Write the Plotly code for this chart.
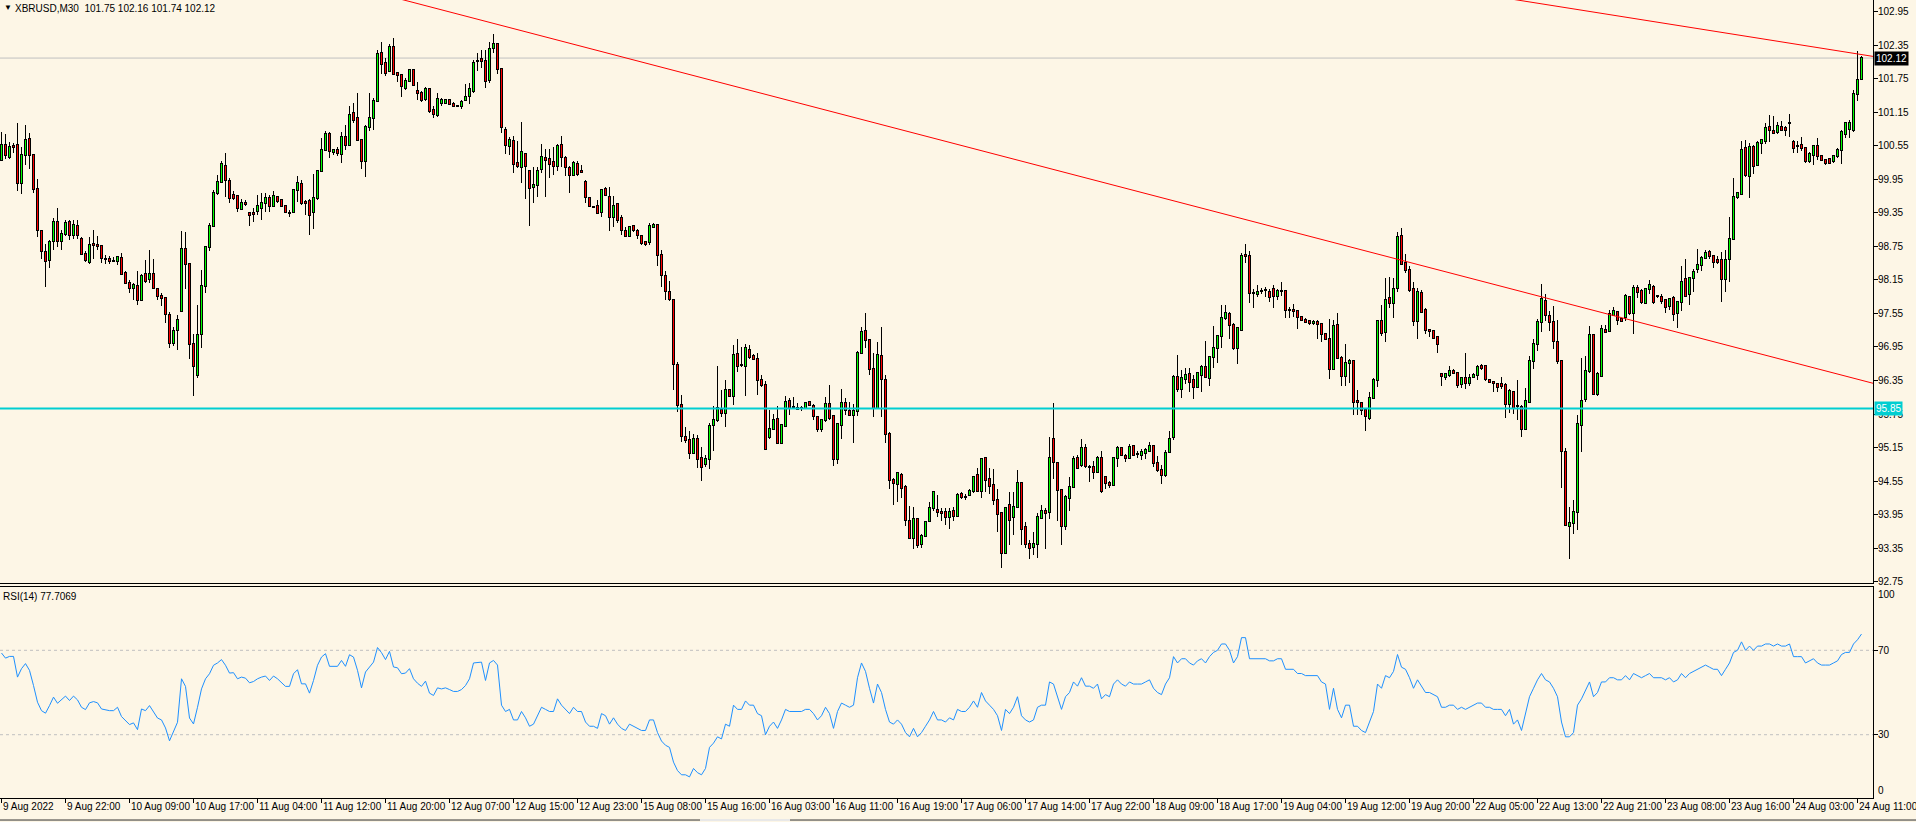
import plotly.graph_objects as go

# ---------------- data ----------------
opens = [
100.29,100.56,100.35,100.55,100.56,99.88,100.39,100.67,100.38,99.77,
99.03,98.65,98.50,98.84,99.19,98.84,98.97,99.19,98.96,99.12,
98.89,98.61,98.47,98.79,98.77,98.75,98.52,98.52,98.49,98.49,
98.55,98.28,98.10,98.01,98.04,97.79,98.25,98.16,98.26,97.99,
97.86,97.82,97.52,97.02,97.26,97.59,98.70,98.44,97.00,96.44,
97.18,98.04,98.73,99.11,99.71,99.91,100.19,99.92,99.67,99.65,
99.42,99.53,99.35,99.35,99.38,99.44,99.53,99.62,99.47,99.63,
99.58,99.47,99.34,99.36,99.76,99.86,99.55,99.57,99.36,99.61,
100.10,100.47,100.77,100.44,100.47,100.41,100.70,100.56,101.13,101.05,
100.66,100.28,100.89,101.05,101.36,102.21,102.04,101.89,102.32,101.86,
101.81,101.58,101.71,101.90,101.53,101.50,101.39,101.56,101.19,101.10,
101.31,101.32,101.37,101.30,101.26,101.26,101.37,101.44,101.53,102.07,
102.11,102.07,101.73,102.30,102.37,101.92,100.83,100.54,100.63,100.25,
100.17,100.40,100.10,99.82,99.85,100.13,100.34,100.31,100.26,100.19,
100.56,100.34,100.16,100.03,100.23,100.10,99.91,99.61,99.46,99.47,
99.36,99.78,99.64,99.27,99.51,99.26,99.03,98.93,99.12,99.03,
98.93,98.83,98.82,99.10,99.13,98.59,98.22,97.93,97.79,96.62,
95.92,95.34,95.28,95.05,95.30,94.97,94.85,94.95,95.55,95.64,
95.83,95.76,96.18,96.07,96.83,96.63,96.61,96.90,96.79,96.74,
96.36,96.27,95.33,95.49,95.66,95.24,95.53,95.98,95.87,95.85,
95.85,95.86,95.96,95.90,95.70,95.49,95.65,95.93,95.71,94.94,
95.55,95.94,95.81,95.74,95.80,96.85,97.24,97.07,96.56,95.86,
96.78,96.36,95.40,94.57,94.50,94.66,94.45,93.84,93.54,93.88,
93.42,93.57,93.83,94.06,94.03,94.00,93.99,93.90,94.01,93.92,
94.32,94.27,94.30,94.38,94.66,94.37,94.96,94.58,94.48,94.21,
93.97,93.26,94.12,93.90,94.09,94.52,93.72,93.42,93.37,93.42,
93.89,94.02,94.00,95.30,94.87,94.39,93.75,94.25,94.45,94.96,
94.84,95.15,94.81,94.81,94.72,94.97,94.62,94.51,94.48,94.96,
95.14,95.00,94.97,95.18,95.03,95.02,95.06,95.09,95.18,94.88,
94.75,94.65,95.07,95.33,96.42,96.20,96.37,96.46,96.36,96.23,
96.45,96.60,96.39,96.77,96.94,97.15,97.46,97.54,97.34,96.94,
97.26,98.60,98.57,97.91,97.90,97.96,97.97,97.93,97.99,97.86,
97.95,97.96,97.61,97.61,97.60,97.49,97.44,97.42,97.37,97.40,
97.36,97.18,97.09,96.55,97.34,96.76,96.43,96.66,96.69,95.99,
95.95,95.82,95.68,96.04,96.35,97.42,97.21,97.82,97.73,98.00,
98.94,98.46,98.33,97.99,97.41,97.92,97.61,97.25,97.23,97.12,
96.47,96.42,96.44,96.52,96.48,96.28,96.40,96.31,96.41,96.45,
96.61,96.61,96.36,96.33,96.28,96.28,96.27,95.93,96.15,95.90,
95.88,95.49,95.97,96.69,97.00,97.39,97.78,97.51,97.39,97.04,
96.69,95.07,93.75,93.80,93.99,95.56,96.02,96.52,97.17,96.10,
96.43,97.26,97.23,97.53,97.57,97.45,97.48,97.84,97.55,98.01,
97.95,97.73,97.98,98.03,97.86,97.85,97.79,97.68,97.83,97.55,
97.75,98.17,97.90,98.19,98.34,98.42,98.55,98.65,98.57,98.50,
98.50,98.17,98.52,98.88,99.63,99.69,100.51,100.01,100.52,100.21,
100.60,100.64,100.88,100.82,100.80,100.88,100.87,100.96,100.62,100.54,
100.56,100.51,100.27,100.39,100.54,100.36,100.29,100.31,100.28,100.36,
100.47,100.77,100.85,100.83,101.47,101.75]

highs = [
100.80,100.77,100.62,100.60,100.96,100.53,100.92,100.78,100.41,99.95,
99.05,98.80,98.86,99.26,99.44,99.04,99.22,99.22,99.22,99.23,
98.92,98.67,98.92,99.05,98.93,98.77,98.60,98.57,98.56,98.58,
98.64,98.31,98.15,98.09,98.31,98.25,98.50,98.68,98.53,98.01,
97.92,97.84,97.58,97.31,97.52,99.03,99.01,98.46,97.19,97.70,
98.32,98.74,99.16,99.76,100.02,100.28,100.42,99.97,99.74,99.67,
99.59,99.58,99.37,99.43,99.67,99.70,99.70,99.67,99.74,99.65,
99.60,99.48,99.41,99.77,100.01,99.94,99.58,99.59,100.05,100.11,
100.69,100.81,100.79,100.50,100.53,100.79,100.92,101.26,101.31,101.50,
100.68,100.92,101.50,101.40,102.27,102.41,102.13,102.38,102.48,101.87,
101.84,101.76,101.93,101.92,101.70,101.53,101.61,101.59,101.26,101.49,
101.40,101.38,101.38,101.33,101.28,101.37,101.65,101.67,102.08,102.21,
102.26,102.27,102.41,102.55,102.38,101.93,100.89,100.71,100.73,100.64,
100.98,100.41,100.11,100.17,100.17,100.59,100.50,100.50,100.53,100.58,
100.73,100.36,100.19,100.27,100.28,100.21,99.94,99.62,99.47,99.58,
99.77,99.82,99.82,99.65,99.52,99.31,99.10,99.11,99.13,99.06,
98.95,98.85,99.16,99.16,99.15,98.68,98.31,98.13,97.80,96.68,
96.09,95.52,95.45,95.40,95.37,95.16,95.01,95.59,95.90,96.61,
96.18,96.36,96.19,96.98,97.09,96.95,97.01,96.98,96.83,96.84,
96.45,96.34,95.82,95.75,95.89,95.58,96.08,96.03,96.06,95.94,
95.90,95.95,95.98,95.93,95.71,95.66,96.06,96.27,95.73,95.58,
96.20,96.03,95.97,95.93,96.87,97.30,97.55,97.09,96.84,97.04,
97.31,96.45,95.42,94.60,94.72,94.69,94.48,94.11,94.09,93.89,
93.60,93.83,94.17,94.37,94.30,94.07,94.07,94.06,94.09,94.33,
94.36,94.31,94.40,94.63,94.78,94.97,94.97,94.78,94.77,94.40,
94.00,94.08,94.35,94.35,94.75,94.54,93.81,93.49,93.63,93.97,
94.12,94.07,95.34,95.95,94.89,94.41,94.30,94.63,95.00,95.01,
95.31,95.21,94.84,94.91,95.00,95.09,94.64,94.55,94.97,95.18,
95.16,95.04,95.21,95.19,95.08,95.13,95.14,95.25,95.19,95.00,
94.84,95.10,95.44,96.44,96.81,96.54,96.58,96.57,96.45,96.51,
96.63,97.06,96.79,97.32,97.17,97.70,97.70,97.58,97.37,97.31,
98.63,98.79,98.67,97.99,98.05,98.01,98.03,97.99,98.05,97.99,
98.12,97.97,97.67,97.71,97.61,97.51,97.46,97.44,97.43,97.43,
97.38,97.20,97.45,97.43,97.55,96.79,97.00,96.73,96.72,96.18,
95.97,95.86,96.14,96.39,97.44,97.70,98.18,98.21,98.18,99.01,
99.08,98.61,98.39,98.12,98.00,97.97,97.65,97.28,97.26,97.13,
96.49,96.47,96.61,96.55,96.49,96.40,96.85,96.46,96.49,96.63,
96.64,96.63,96.38,96.34,96.30,96.42,96.30,96.20,96.17,96.35,
95.91,96.22,96.79,97.09,97.45,98.07,97.90,97.60,97.68,97.43,
96.70,95.15,94.08,94.22,95.74,96.75,96.78,97.32,97.19,96.50,
97.35,97.34,97.61,97.66,97.60,97.47,97.90,97.87,98.06,98.06,
97.98,98.01,98.14,98.05,97.88,97.90,97.81,97.83,97.86,97.78,
98.40,98.52,98.21,98.35,98.70,98.58,98.68,98.68,98.60,98.58,
98.65,98.68,99.27,99.97,99.73,100.64,100.65,100.60,100.56,100.64,
100.68,100.95,101.10,101.08,100.98,100.99,100.90,101.12,100.65,100.63,
100.71,100.52,100.44,100.56,100.69,100.38,100.32,100.33,100.39,100.51,
100.83,100.98,101.01,101.54,102.25,102.16]

lows = [
100.27,100.31,100.31,100.43,99.74,99.68,100.20,100.13,99.70,98.92,
98.53,98.03,98.37,98.69,98.74,98.69,98.93,98.87,98.88,98.89,
98.59,98.47,98.44,98.53,98.69,98.46,98.43,98.43,98.47,98.41,
98.26,98.09,97.92,97.79,97.70,97.79,98.10,98.09,97.99,97.79,
97.69,97.37,96.94,96.96,96.90,97.59,97.98,96.74,96.07,96.39,
96.94,97.91,98.66,99.09,99.67,99.88,99.64,99.52,99.58,99.36,
99.40,99.47,99.12,99.19,99.31,99.23,99.36,99.37,99.46,99.53,
99.46,99.34,99.27,99.35,99.55,99.49,99.32,98.95,99.06,99.58,
100.08,100.45,100.33,100.38,100.37,100.25,100.47,100.55,100.95,100.65,
100.13,100.00,100.82,100.83,101.34,101.84,101.80,101.87,101.81,101.70,
101.43,101.55,101.70,101.62,101.37,101.34,101.36,101.14,101.04,101.07,
101.27,101.30,101.28,101.25,101.24,101.21,101.36,101.29,101.50,101.89,
101.95,101.59,101.68,102.21,101.83,100.78,100.40,100.38,100.06,100.15,
99.89,99.59,99.12,99.52,99.64,100.06,99.64,99.98,100.03,100.10,
100.17,100.01,99.71,100.01,100.01,100.07,99.53,99.45,99.45,99.34,
99.28,99.65,99.02,99.10,99.16,98.95,98.92,98.92,99.01,98.89,
98.77,98.75,98.77,99.08,98.40,98.03,97.79,97.77,96.18,95.78,
95.25,95.23,94.95,95.03,94.79,94.55,94.80,94.76,95.08,95.61,
95.69,95.52,96.06,95.91,96.51,96.60,96.07,96.73,96.71,96.09,
96.24,95.12,95.31,95.46,95.21,95.23,95.52,95.74,95.85,95.83,
95.80,95.85,95.90,95.65,95.43,95.42,95.61,95.64,94.82,94.85,
95.30,95.74,95.73,95.24,95.71,96.82,96.94,96.44,95.70,95.85,
95.70,95.24,94.40,94.13,94.18,94.24,93.75,93.52,93.33,93.35,
93.36,93.55,93.81,94.01,93.91,93.83,93.76,93.69,93.83,93.91,
94.23,94.21,94.28,94.34,94.36,94.25,94.35,94.31,94.13,93.64,
92.99,93.24,93.41,93.58,94.06,93.40,93.35,93.15,93.22,93.18,
93.88,93.33,93.87,94.59,93.83,93.40,93.67,94.01,94.43,94.76,
94.80,94.79,94.54,94.58,94.70,94.33,94.41,94.43,94.47,94.81,
94.99,94.90,94.95,95.00,94.96,94.93,94.95,95.07,94.81,94.72,
94.49,94.63,95.06,95.28,96.15,96.04,96.28,96.15,96.01,96.21,
96.14,96.39,96.26,96.58,96.67,96.94,97.44,97.10,96.89,96.64,
97.25,98.45,97.73,97.65,97.85,97.90,97.85,97.76,97.65,97.79,
97.86,97.47,97.46,97.49,97.28,97.41,97.37,97.35,97.35,97.09,
97.04,97.07,96.37,96.54,96.73,96.26,96.26,96.30,95.73,95.74,
95.73,95.45,95.65,96.02,96.24,97.15,97.04,97.65,97.46,97.94,
98.42,98.27,97.94,97.33,97.10,97.56,97.19,97.12,97.10,96.84,
96.25,96.35,96.41,96.46,96.22,96.21,96.20,96.25,96.39,96.36,
96.54,96.34,96.30,96.15,96.15,96.20,95.67,95.76,95.75,95.65,
95.33,95.46,95.96,96.55,96.88,97.22,97.42,97.23,96.92,96.65,
94.43,93.74,93.16,93.61,93.67,95.07,95.97,96.49,96.09,96.07,
96.42,97.20,97.21,97.51,97.35,97.41,97.42,97.52,97.19,97.83,
97.72,97.71,97.90,97.71,97.83,97.72,97.56,97.62,97.42,97.29,
97.60,97.84,97.70,97.93,98.28,98.31,98.52,98.52,98.37,98.43,
97.75,97.94,98.12,98.86,99.60,99.67,99.99,99.61,100.05,100.19,
100.40,100.59,100.62,100.76,100.77,100.82,100.73,100.70,100.42,100.43,
100.46,100.25,100.25,100.21,100.29,100.28,100.20,100.23,100.25,100.34,
100.22,100.69,100.69,100.79,101.35,101.74]

closes = [
100.56,100.38,100.53,100.53,99.88,100.38,100.65,100.38,99.77,99.04,
98.66,98.49,98.83,99.19,98.84,98.97,99.17,98.95,99.14,98.95,
98.62,98.51,98.77,98.77,98.75,98.55,98.52,98.48,98.49,98.56,
98.26,98.10,98.01,98.06,97.79,98.22,98.13,98.26,98.01,97.86,
97.82,97.54,97.02,97.23,97.44,98.70,98.44,97.00,96.61,97.16,
98.04,98.73,99.11,99.71,99.91,100.22,99.94,99.61,99.62,99.43,
99.53,99.50,99.31,99.33,99.47,99.53,99.62,99.47,99.65,99.57,
99.47,99.36,99.34,99.76,99.89,99.52,99.52,99.31,99.61,100.10,
100.48,100.77,100.45,100.48,100.43,100.70,100.56,101.10,101.02,100.66,
100.28,100.89,101.05,101.36,102.19,102.01,101.86,102.32,101.83,101.81,
101.62,101.71,101.90,101.64,101.49,101.37,101.56,101.17,101.12,101.39,
101.37,101.37,101.30,101.26,101.26,101.34,101.43,101.56,102.04,102.07,
102.07,101.71,102.29,102.37,101.93,100.89,100.56,100.65,100.22,100.19,
100.44,100.19,99.79,99.84,100.10,100.35,100.29,100.23,100.19,100.55,
100.35,100.17,100.03,100.25,100.05,100.09,99.64,99.47,99.46,99.35,
99.76,99.67,99.27,99.48,99.23,99.04,98.93,99.10,99.04,98.95,
98.81,98.79,99.11,99.13,98.60,98.24,97.95,97.80,96.64,95.92,
95.35,95.29,95.05,95.31,94.95,94.80,94.95,95.53,95.64,95.85,
95.76,96.18,96.07,96.80,96.61,96.62,96.94,96.77,96.74,96.36,
96.27,95.13,95.49,95.64,95.24,95.55,95.97,95.85,95.87,95.84,
95.85,95.94,95.91,95.71,95.49,95.64,95.93,95.67,94.94,95.57,
95.94,95.82,95.74,95.80,96.85,97.21,97.07,96.56,95.86,96.81,
96.37,95.40,94.57,94.51,94.69,94.42,93.85,93.54,93.88,93.40,
93.57,93.81,94.06,94.35,93.99,93.97,93.90,94.00,93.92,94.30,
94.27,94.26,94.38,94.62,94.37,94.94,94.57,94.46,94.21,93.96,
93.27,94.06,93.85,94.09,94.52,93.70,93.42,93.36,93.42,93.91,
94.02,93.98,94.97,94.89,94.39,93.75,94.27,94.45,94.94,94.79,
95.15,94.82,94.81,94.72,94.96,94.37,94.52,94.48,94.96,95.15,
95.02,94.96,95.16,95.02,95.03,95.07,95.10,95.18,94.88,94.75,
94.66,95.06,95.31,96.42,96.20,96.39,96.45,96.33,96.23,96.48,
96.60,96.41,96.77,96.94,97.15,97.46,97.55,97.34,96.94,97.29,
98.58,98.58,97.92,97.91,97.94,97.96,97.97,97.84,97.87,97.95,
97.96,97.61,97.61,97.60,97.48,97.43,97.39,97.37,97.40,97.36,
97.19,97.09,96.55,97.32,96.76,96.43,96.67,96.70,95.96,95.96,
95.82,95.71,96.04,96.36,97.42,97.20,97.79,97.73,97.99,98.91,
98.43,98.33,97.97,97.41,97.94,97.58,97.25,97.23,97.11,97.00,
96.43,96.46,96.52,96.49,96.27,96.39,96.31,96.40,96.45,96.60,
96.58,96.37,96.33,96.30,96.23,96.25,95.93,96.16,95.85,95.89,
95.49,95.99,96.69,97.00,97.40,97.80,97.52,97.39,97.05,96.70,
95.09,93.77,93.80,94.00,95.58,95.99,96.52,97.16,96.10,96.46,
97.28,97.22,97.54,97.60,97.43,97.42,97.87,97.56,98.01,97.93,
97.76,97.99,98.05,97.76,97.86,97.78,97.66,97.81,97.54,97.75,
98.11,97.86,98.19,98.29,98.42,98.55,98.63,98.57,98.47,98.47,
98.17,98.50,98.88,99.63,99.70,100.48,100.03,100.52,100.19,100.60,
100.65,100.87,100.83,100.78,100.90,100.84,100.84,100.95,100.51,100.54,
100.51,100.27,100.40,100.54,100.37,100.29,100.24,100.25,100.37,100.48,
100.80,100.95,100.96,101.47,101.73,102.12]

rsi_vals = [
68.7,66.3,67.1,67.1,57.3,61.3,63.7,60.5,53.3,45.4,
41.4,40.2,43.8,47.8,44.9,46.5,48.3,46.2,48.3,46.5,
43.0,41.9,45.1,45.7,45.1,42.2,41.7,41.4,41.4,43.0,
38.6,36.7,34.8,35.6,32.4,42.2,41.4,43.8,40.6,37.9,
37.0,33.2,27.1,31.1,35.9,56.5,52.9,37.9,35.1,43.0,
51.7,56.5,58.9,62.9,64.0,65.6,62.9,59.2,59.4,56.5,
57.3,56.8,54.6,55.2,56.5,57.3,57.8,55.7,57.8,56.5,
54.9,52.9,52.9,58.9,60.8,54.1,54.1,49.7,55.7,62.9,
66.8,68.4,62.4,62.4,62.4,65.2,62.4,67.9,66.8,60.5,
52.2,59.7,62.1,64.4,71.3,68.9,65.6,69.5,62.1,61.7,
58.9,59.2,61.3,56.5,54.4,52.9,55.4,49.7,48.6,52.2,
51.7,52.2,51.4,50.5,50.5,51.4,53.3,56.5,64.0,64.1,
64.4,55.7,64.0,65.2,63.0,
44,41,42,37,37,41,38,34,35,39,
43,42,41,41,47,44,42,40,43,41,
41,36,34,34,33,40,39,35,38,35,
33,32,35,34,33,32,32,37,37,31,
27,25,24,17,13,11,11,10,14,12,
11,14,24,26,29,28,35,34,44,42,
42,46,44,44,40,39,30,34,36,33,
37,42,41,41,41,41,42,42,40,37,
39,43,40,33,41,45,44,43,44,57,
64,60,52,45,54,50,42,36,35,37,
35,31,29,33,29,31,34,37,41,37,
37,36,38,37,42,41,41,43,46,43,
50,46,44,42,39,32,42,40,43,48,
39,37,36,37,43,44,44,55,54,48,
42,48,50,55,53,57,53,53,52,54,
47,49,48,54,56,54,53,55,54,54,
54,55,56,52,50,49,54,57,67,64,
66,66,64,63,65,66,64,67,69,70,
73,73,70,64,67,76,76,66,66,66,
66,66,65,65,66,66,61,61,61,59,
59,58,58,58,58,55,54,42,52,42,
38,44,44,34,34,32,31,36,41,54,
52,58,57,60,68,62,61,57,52,56,
53,50,50,49,48,43,43,44,44,42,
43,42,43,44,45,45,43,43,42,42,
42,39,42,35,37,32,40,48,52,56,
59,56,55,52,48,36,29,29,31,44,
47,51,55,48,50,55,55,57,57,56,
56,58,56,59,58,57,58,59,57,57,
57,56,57,55,56,59,57,59,60,61,
62,63,62,61,61,58,61,64,69,70,
74,70,72,70,72,72,73,73,72,73,
72,72,73,67,67,67,64,65,66,64,
63,63,63,64,65,68,69,69,73,75,
77.7]

time_tick_bars = list(range(0, 465, 16))
time_tick_labels = ["9 Aug 2022", "9 Aug 22:00", "10 Aug 09:00", "10 Aug 17:00", "11 Aug 04:00",
                    "11 Aug 12:00", "11 Aug 20:00", "12 Aug 07:00", "12 Aug 15:00", "12 Aug 23:00",
                    "15 Aug 08:00", "15 Aug 16:00", "16 Aug 03:00", "16 Aug 11:00", "16 Aug 19:00",
                    "17 Aug 06:00", "17 Aug 14:00", "17 Aug 22:00", "18 Aug 09:00", "18 Aug 17:00",
                    "19 Aug 04:00", "19 Aug 12:00", "19 Aug 20:00", "22 Aug 05:00", "22 Aug 13:00",
                    "22 Aug 21:00", "23 Aug 08:00", "23 Aug 16:00", "24 Aug 03:00", "24 Aug 11:00"]
price_ticks = [92.75, 93.35, 93.95, 94.55, 95.15, 95.75, 96.35, 96.95, 97.55, 98.15,
               98.75, 99.35, 99.95, 100.55, 101.15, 101.75, 102.35, 102.95]
rsi_levels = [30, 70]
support_level = 95.85
bid_price = 102.12
trend1_bars = [100, 467.875]
trend1_prices = [103.17, 96.30]
trend2_bars = [378, 467.875]
trend2_prices = [103.17, 102.15]
title_text = "XBRUSD,M30\u00a0\u00a0101.75 102.16 101.74 102.12"
rsi_title = "RSI(14) 77.7069"

# ---------------- styling ----------------
BG = "#FDF6E6"
FONT = "Liberation Sans, Arial, sans-serif"
FS = 10
BULL = "#00FF00"
BEAR = "#FF0000"
W, H = 1916, 822
plot_right = 1873 / W
main_bottom = (798 - 583) / 798
rsi_top = (798 - 587) / 798
y_range = [92.726, 103.159]
px_price = (y_range[1] - y_range[0]) / 583.0   # price span of one pixel in the main panel

n = len(closes)
bars = list(range(n))

fig = go.Figure()

# wicks (drawn as thin bars so the body sits on top of them)
wick_h = [h - l for h, l in zip(highs, lows)]
fig.add_trace(go.Bar(x=bars, y=wick_h, base=lows, width=0.25,
                     marker=dict(color="black", line=dict(width=0)),
                     showlegend=False, xaxis="x", yaxis="y"))

# bodies: black frame with a coloured core
body_lo = [min(o, c) for o, c in zip(opens, closes)]
body_hi = [max(o, c) for o, c in zip(opens, closes)]
frame_base = [lo - px_price for lo in body_lo]
frame_h = [hi - lo + 2 * px_price for lo, hi in zip(body_lo, body_hi)]
fig.add_trace(go.Bar(x=bars, y=frame_h, base=frame_base, width=0.75,
                     marker=dict(color="black", line=dict(width=0)),
                     showlegend=False, xaxis="x", yaxis="y"))
core_h = [hi - lo for lo, hi in zip(body_lo, body_hi)]
colors = [BULL if c >= o else BEAR for o, c in zip(opens, closes)]
fig.add_trace(go.Bar(x=bars, y=core_h, base=body_lo, width=0.25,
                     marker=dict(color=colors, line=dict(width=0)),
                     showlegend=False, xaxis="x", yaxis="y"))

# trend lines
fig.add_trace(go.Scatter(x=trend1_bars, y=trend1_prices, mode="lines",
                         line=dict(color="#FF0000", width=1), showlegend=False,
                         hoverinfo="skip", xaxis="x", yaxis="y"))
fig.add_trace(go.Scatter(x=trend2_bars, y=trend2_prices, mode="lines",
                         line=dict(color="#FF0000", width=1), showlegend=False,
                         hoverinfo="skip", xaxis="x", yaxis="y"))

# RSI
fig.add_trace(go.Scatter(x=bars, y=rsi_vals, mode="lines", line=dict(color="#1E90FF", width=1),
                         showlegend=False, xaxis="x2", yaxis="y2"))

shapes = [
    dict(type="line", xref="paper", x0=0, x1=plot_right, yref="y", y0=bid_price, y1=bid_price,
         line=dict(color="#C0C0C0", width=1), layer="below"),
    dict(type="line", xref="paper", x0=0, x1=plot_right, yref="y", y0=support_level, y1=support_level,
         line=dict(color="#00CED1", width=2)),
    # window frame at the very bottom
    dict(type="line", xref="paper", x0=0, x1=1, yref="paper", y0=-0.0276, y1=-0.0276,
         line=dict(color="#303030", width=1)),
    dict(type="line", xref="paper", x0=700 / W, x1=790 / W, yref="paper", y0=-0.0276, y1=-0.0276,
         line=dict(color="#E8E8E8", width=2)),
]
for lv in rsi_levels:
    shapes.append(dict(type="line", xref="paper", x0=0, x1=plot_right, yref="y2", y0=lv, y1=lv,
                       line=dict(color="#C0C0C0", width=1, dash="3px,3px"), layer="below"))

def label(text, xref, x, yref, y, xanchor="left", yanchor="middle", xshift=0, yshift=0, **kw):
    d = dict(text=text, xref=xref, x=x, yref=yref, y=y, xanchor=xanchor, yanchor=yanchor,
             xshift=xshift, yshift=yshift, showarrow=False,
             font=kw.pop("font", dict(size=FS, color="black", family=FONT)))
    d.update(kw)
    return d

annotations = [
    label("\u25BC", "paper", 0, "paper", 1, yanchor="top", xshift=2, yshift=-1,
          font=dict(size=8, color="black", family=FONT)),
    label(title_text, "paper", 0, "paper", 1, yanchor="top", xshift=13, yshift=-1),
    label(rsi_title, "paper", 0, "y2 domain", 1, yanchor="top", xshift=1, yshift=-2),
    label("100", "paper", plot_right, "y2", 100, yanchor="top", xshift=3),
    label("0", "paper", plot_right, "y2", 0, yanchor="bottom", xshift=3),
]
for v in price_ticks:
    annotations.append(label(f"{v:.2f}", "paper", plot_right, "y", v, xshift=3))
for v in rsi_levels:
    annotations.append(label(str(v), "paper", plot_right, "y2", v, xshift=3))
annotations.append(label(f"{bid_price:.2f}", "paper", plot_right, "y", bid_price, xshift=1,
                         bgcolor="black", borderpad=1,
                         font=dict(size=FS, color="white", family=FONT)))
annotations.append(label(f"{support_level:.2f}", "paper", plot_right, "y", support_level, xshift=1,
                         bgcolor="#00CED1", borderpad=1,
                         font=dict(size=FS, color="white", family=FONT)))
for b, lab in zip(time_tick_bars, time_tick_labels):
    annotations.append(label(lab, "x2", b, "paper", 0, yanchor="top", xshift=-1, yshift=-1))

axis_common = dict(showgrid=False, zeroline=False, showline=True, linecolor="black",
                   linewidth=1, mirror=True)
fig.update_layout(
    width=W, height=H,
    margin=dict(l=0, r=0, t=0, b=24),
    paper_bgcolor=BG, plot_bgcolor=BG,
    showlegend=False, bargap=0, bargroupgap=0, barmode="overlay",
    hovermode=False,
    font=dict(family=FONT, size=FS, color="black"),
    xaxis=dict(domain=[0, plot_right], range=[-0.375, 467.875], anchor="y",
               showticklabels=False, ticks="", **axis_common),
    yaxis=dict(domain=[main_bottom, 1], range=y_range, anchor="x", side="right",
               tickmode="array", tickvals=price_ticks, showticklabels=False,
               ticks="outside", ticklen=4, tickcolor="black", **axis_common),
    xaxis2=dict(domain=[0, plot_right], range=[-0.375, 467.875], anchor="y2", matches="x",
                tickmode="array", tickvals=time_tick_bars, showticklabels=False,
                ticks="outside", ticklen=4, tickcolor="black", **axis_common),
    yaxis2=dict(domain=[0, rsi_top], range=[0, 100], anchor="x2", side="right",
                tickmode="array", tickvals=rsi_levels, showticklabels=False,
                ticks="outside", ticklen=4, tickcolor="black", **axis_common),
    shapes=shapes,
    annotations=annotations,
)

fig.write_html("out.html", config={"displayModeBar": False, "staticPlot": True},
               post_script="document.body.style.margin='0px';document.body.style.overflow='hidden';")
